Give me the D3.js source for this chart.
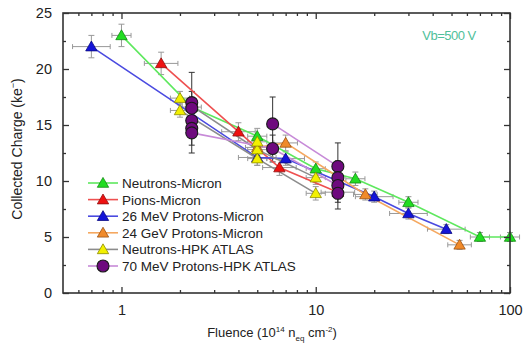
<!DOCTYPE html>
<html>
<head>
<meta charset="utf-8">
<script src="https://cdn.jsdelivr.net/npm/d3@7"></script>
<style>
  body { margin: 0; background: #fff; }
  text { font-family: "Liberation Sans", Arial, sans-serif; }
</style>
</head>
<body>
<div id="chart-holder"></div>
<script>
// ****DATA****
// Neutrons-Micron
const neutronsMicronX = [1, 2.3, 5, 10, 16, 30, 70, 100];
const neutronsMicronY = [23, 16.6, 14, 11.1, 10.2, 8.1, 5.0, 5.0];
const neutronsMicronYErr = [1, 0.8, 0.7, 0.6, 0.6, 0.5, 0.4, 0.4];
// Pions-Micron
const pionsMicronX = [1.6, 4, 6.5, 13];
const pionsMicronY = [20.5, 14.4, 11.2, 9.0];
const pionsMicronYErr = [1, 0.8, 0.7, 0.6];
// 26 MeV Protons-Micron
const protons26X = [0.7, 5, 7, 20, 30, 47];
const protons26Y = [22, 12.1, 12.0, 8.6, 7.1, 5.7];
const protons26YErr = [1, 0.7, 0.6, 0.5, 0.5, 0.4];
// 24 GeV Protons-Micron
const protons24X = [5, 7, 18, 55];
const protons24Y = [13.0, 13.4, 8.8, 4.3];
const protons24YErr = [0.7, 0.7, 0.5, 0.4];
// Neutrons-HPK ATLAS (two devices)
const hpkNeutronsX = [2, 5, 10];
const hpkNeutronsYa = [17.4, 12.8, 10.3];
const hpkNeutronsYb = [16.3, 12.0, 8.9];
const hpkNeutronsExtraX = [5];
const hpkNeutronsExtraY = [13.5];
// 70 MeV Protons-HPK ATLAS
const hpkProtonsX = [2.3, 2.3, 2.3, 2.3, 2.3, 6, 6, 13, 13, 13, 13];
const hpkProtonsY = [17.0, 16.5, 15.4, 14.7, 14.3, 15.1, 12.9, 11.3, 10.3, 9.6, 8.9];
const hpkProtonsYErr = [2.7, 1.5, 1.5, 1.5, 1.8, 2.4, 1.2, 2.1, 1.5, 1.5, 1.4];
// purple connecting lines
const hpkProtonsLineAX = [2.3, 6, 13];
const hpkProtonsLineAY = [14.3, 12.9, 9.6];
const hpkProtonsLineBX = [6, 13];
const hpkProtonsLineBY = [15.1, 11.3];

const legendLabels = ['Neutrons-Micron', 'Pions-Micron', '26 MeV Protons-Micron',
                      '24 GeV Protons-Micron', 'Neutrons-HPK ATLAS', '70 MeV Protons-HPK ATLAS'];
const xMajorTicks = [1, 10, 100];
const xMinorTicks = [0.6, 0.7, 0.8, 0.9, 2, 3, 4, 5, 6, 7, 8, 9, 20, 30, 40, 50, 60, 70, 80, 90];
const yMajorTicks = [0, 5, 10, 15, 20, 25];
const yMinorTicks = [2.5, 7.5, 12.5, 17.5, 22.5];

function zip(xs, ys, es) {
    return xs.map(function(x, i) { return {x: x, y: ys[i], e: es ? es[i] : 0.6}; });
}

// ****SVG CANVAS****
const width = 524;
const height = 345;
const paddingLeft = 63, paddingTop = 13, paddingRight = 14, paddingBottom = 52;
const graphWidth = width - paddingLeft - paddingRight;
const graphHeight = height - paddingTop - paddingBottom;

const svg = d3.select('#chart-holder').append('svg')
    .attr('width', width)
    .attr('height', height);

const xScale = d3.scaleLog().domain([0.5, 100]).range([0, graphWidth]);
const yScale = d3.scaleLinear().domain([0, 25]).range([graphHeight, 0]);

const g = svg.append('g').attr('transform', `translate(${paddingLeft},${paddingTop})`);

// series definitions (style + data)
const series = [
    {pts: zip(neutronsMicronX, neutronsMicronY, neutronsMicronYErr), runs: [zip(neutronsMicronX, neutronsMicronY)],
     fill: '#22dd22', stroke: '#128a12', line: '#5ee85e', xf: 1.12, shape: 'tri'},
    {pts: zip(pionsMicronX, pionsMicronY, pionsMicronYErr), runs: [zip(pionsMicronX, pionsMicronY)],
     fill: '#ee1111', stroke: '#901010', line: '#ee5050', xf: 1.22, shape: 'tri'},
    {pts: zip(protons26X, protons26Y, protons26YErr), runs: [zip(protons26X, protons26Y)],
     fill: '#1414d8', stroke: '#0a0a80', line: '#4a4ae0', xf: 1.25, shape: 'tri'},
    {pts: zip(protons24X, protons24Y, protons24YErr), runs: [zip(protons24X, protons24Y)],
     fill: '#f08a2a', stroke: '#9a5010', line: '#f5a860', xf: 1.15, shape: 'tri'},
    {pts: zip(hpkNeutronsX, hpkNeutronsYa).concat(zip(hpkNeutronsX, hpkNeutronsYb), zip(hpkNeutronsExtraX, hpkNeutronsExtraY)),
     runs: [zip(hpkNeutronsX, hpkNeutronsYa), zip(hpkNeutronsX, hpkNeutronsYb)],
     fill: '#f2f000', stroke: '#8a8a00', line: '#8c8c8c', xf: 1.12, shape: 'tri'},
    {pts: zip(hpkProtonsX, hpkProtonsY, hpkProtonsYErr),
     runs: [zip(hpkProtonsLineAX, hpkProtonsLineAY), zip(hpkProtonsLineBX, hpkProtonsLineBY)],
     fill: '#6e0a7e', stroke: '#1a1a1a', line: '#c78ad8', xf: 1.06, shape: 'circle'}
];

// ****ERROR BARS****
const errGroup = g.append('g').attr('stroke-width', 1).attr('fill', 'none');
series.forEach(function(s, si) {
    const dark = si === 5 ? '#333' : '#999';
    s.pts.forEach(function(d) {
        const cx = xScale(d.x), cy = yScale(d.y);
        const y0 = yScale(d.y - d.e), y1 = yScale(d.y + d.e);
        const x0 = xScale(d.x / s.xf), x1 = xScale(d.x * s.xf);
        errGroup.append('line').attr('x1', cx).attr('x2', cx).attr('y1', y0).attr('y2', y1).attr('stroke', dark);
        errGroup.append('line').attr('x1', cx - 3).attr('x2', cx + 3).attr('y1', y0).attr('y2', y0).attr('stroke', dark);
        errGroup.append('line').attr('x1', cx - 3).attr('x2', cx + 3).attr('y1', y1).attr('y2', y1).attr('stroke', dark);
        errGroup.append('line').attr('x1', x0).attr('x2', x1).attr('y1', cy).attr('y2', cy).attr('stroke', dark);
        errGroup.append('line').attr('x1', x0).attr('x2', x0).attr('y1', cy - 2.5).attr('y2', cy + 2.5).attr('stroke', dark);
        errGroup.append('line').attr('x1', x1).attr('x2', x1).attr('y1', cy - 2.5).attr('y2', cy + 2.5).attr('stroke', dark);
    });
});

// ****LINES****
const lineGen = d3.line().x(function(d) { return xScale(d.x); }).y(function(d) { return yScale(d.y); });
series.forEach(function(s) {
    s.runs.forEach(function(r) {
        g.append('path').datum(r)
            .attr('d', lineGen)
            .attr('fill', 'none')
            .attr('stroke', s.line)
            .attr('stroke-width', 1.6);
    });
});

// ****MARKERS****
const triSym = d3.symbol().type(d3.symbolTriangle).size(56);
function drawMarker(sel, s) {
    if (s.shape === 'circle') {
        sel.append('circle').attr('r', 6)
            .attr('fill', s.fill).attr('stroke', s.stroke).attr('stroke-width', 1.1);
    } else {
        sel.append('path').attr('d', triSym).attr('transform', 'translate(0,1)')
            .attr('fill', s.fill).attr('stroke', s.stroke).attr('stroke-width', 0.8);
    }
}
series.forEach(function(s) {
    s.pts.forEach(function(d) {
        const m = g.append('g').attr('transform', `translate(${xScale(d.x)},${yScale(d.y)})`);
        drawMarker(m, s);
    });
});

// ****AXES****
const axisColor = '#333';
function styleAxis(sel) {
    sel.select('.domain').remove();
    sel.selectAll('line').attr('stroke', axisColor).attr('stroke-width', 1.3);
    sel.selectAll('text').attr('font-size', '14.5px').attr('fill', '#222')
        .style('font-family', '"Liberation Sans", Arial, sans-serif');
}
g.append('g').attr('transform', `translate(0,${graphHeight})`)
    .call(d3.axisBottom(xScale).tickValues(xMajorTicks).tickSize(-6).tickPadding(12).tickFormat(d3.format('d')))
    .call(styleAxis);
g.append('g').attr('transform', `translate(0,${graphHeight})`)
    .call(d3.axisBottom(xScale).tickValues(xMinorTicks).tickSize(-3).tickFormat(''))
    .call(styleAxis);
g.append('g')
    .call(d3.axisTop(xScale).tickValues(xMajorTicks).tickSize(-6).tickFormat(''))
    .call(styleAxis);
g.append('g')
    .call(d3.axisTop(xScale).tickValues(xMinorTicks).tickSize(-3).tickFormat(''))
    .call(styleAxis);
g.append('g')
    .call(d3.axisLeft(yScale).tickValues(yMajorTicks).tickSize(-6).tickPadding(11))
    .call(styleAxis);
g.append('g')
    .call(d3.axisLeft(yScale).tickValues(yMinorTicks).tickSize(-3).tickFormat(''))
    .call(styleAxis);
g.append('g').attr('transform', `translate(${graphWidth},0)`)
    .call(d3.axisRight(yScale).tickValues(yMajorTicks).tickSize(-6).tickFormat(''))
    .call(styleAxis);
g.append('g').attr('transform', `translate(${graphWidth},0)`)
    .call(d3.axisRight(yScale).tickValues(yMinorTicks).tickSize(-3).tickFormat(''))
    .call(styleAxis);

// frame
g.append('rect').attr('width', graphWidth).attr('height', graphHeight)
    .attr('fill', 'none').attr('stroke', axisColor).attr('stroke-width', 1.6);

// ****LABELS****
const yl = svg.append('text')
    .attr('transform', `translate(22,${paddingTop + graphHeight / 2 - 4}) rotate(-90)`)
    .attr('text-anchor', 'middle')
    .attr('font-size', '14px')
    .attr('fill', '#222');
yl.append('tspan').text('Collected Charge (ke');
yl.append('tspan').attr('dy', -6).attr('font-size', '9px').text('\u2212');
yl.append('tspan').attr('dy', 6).text(')');

const xl = svg.append('text')
    .attr('x', 272).attr('y', 337)
    .attr('text-anchor', 'middle')
    .attr('font-size', '13px')
    .attr('fill', '#222');
xl.append('tspan').text('Fluence (10');
xl.append('tspan').attr('dy', -5).attr('font-size', '8px').text('14');
xl.append('tspan').attr('dy', 5).text(' n');
xl.append('tspan').attr('dy', 4).attr('font-size', '8px').text('eq');
xl.append('tspan').attr('dy', -4).text(' cm');
xl.append('tspan').attr('dy', -5).attr('font-size', '8px').text('-2');
xl.append('tspan').attr('dy', 5).text(')');

svg.append('text')
    .attr('x', 449).attr('y', 40)
    .attr('text-anchor', 'middle')
    .attr('font-size', '13px')
    .attr('letter-spacing', '-0.5px')
    .attr('fill', '#4fbf9a')
    .text('Vb=500 V');

// ****LEGEND****
const legend = svg.append('g').attr('transform', 'translate(88,183)');
series.forEach(function(s, i) {
    const row = legend.append('g').attr('transform', `translate(0,${i * 16.6})`);
    row.append('line').attr('x1', 0).attr('x2', 30).attr('y1', 0).attr('y2', 0)
        .attr('stroke', s.line).attr('stroke-width', 1.6);
    const m = row.append('g').attr('transform', 'translate(15,0)');
    drawMarker(m, s);
    row.append('text').attr('x', 34).attr('y', 5)
        .attr('font-size', '13.5px').attr('fill', '#222')
        .text(legendLabels[i]);
});
</script>
</body>
</html>
